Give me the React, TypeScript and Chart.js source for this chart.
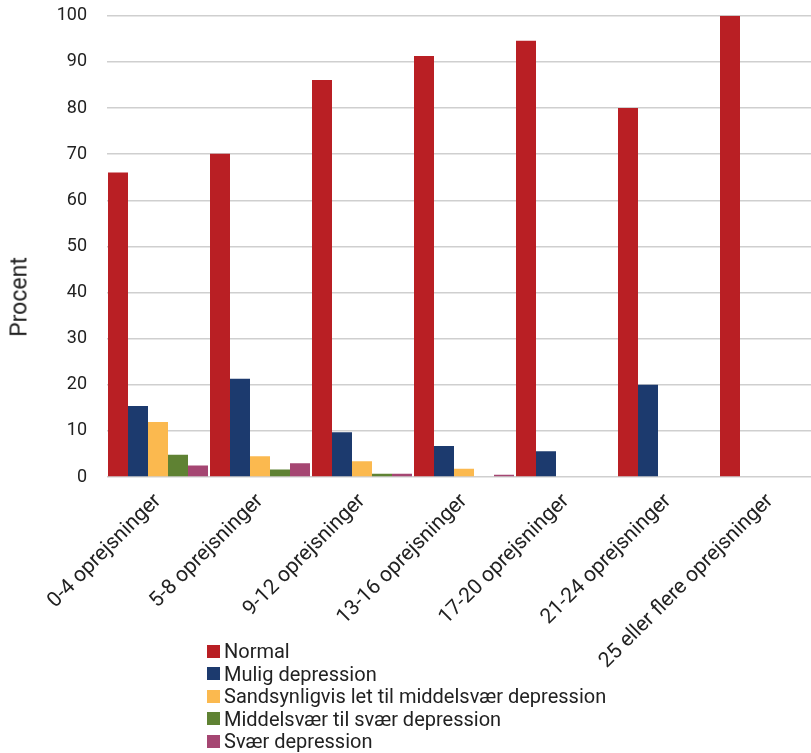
import React, { useEffect, useRef } from "react";
import { Chart, registerables } from "chart.js";

Chart.register(...registerables);

const categories = [
  "0-4 oprejsninger",
  "5-8 oprejsninger",
  "9-12 oprejsninger",
  "13-16 oprejsninger",
  "17-20 oprejsninger",
  "21-24 oprejsninger",
  "25 eller flere oprejsninger",
];

const seriesNames = [
  "Normal",
  "Mulig depression",
  "Sandsynligvis let til middelsvær depression",
  "Middelsvær til svær depression",
  "Svær depression",
];

const normal = [66, 70.1, 86.1, 91.3, 94.6, 80, 100];
const mulig = [15.4, 21.3, 9.7, 6.7, 5.6, 20, 0];
const sandsynligvis = [11.9, 4.5, 3.4, 1.8, 0, 0, 0];
const middelsvaer = [4.8, 1.6, 0.7, 0, 0, 0, 0];
const svaer = [2.5, 3.0, 0.7, 0.5, 0, 0, 0];

const colors = ["#B91F24", "#1C3A6E", "#FBB94F", "#5F8233", "#A54672"];

const yTicks = [0, 10, 20, 30, 40, 50, 60, 70, 80, 90, 100];

const FONT = "Roboto, 'DejaVu Sans', sans-serif";

const CANVAS_TOP = -15;
const CANVAS_H = 768;

export default function App() {
  const ref = useRef<HTMLCanvasElement | null>(null);

  useEffect(() => {
    if (!ref.current) return;
    const values = [normal, mulig, sandsynligvis, middelsvaer, svaer];
    const chart = new Chart(ref.current, {
      type: "bar",
      data: {
        labels: categories,
        datasets: seriesNames.map((name, i) => ({
          label: name,
          data: values[i],
          backgroundColor: colors[i],
          borderWidth: 0,
          barPercentage: 1,
          categoryPercentage: 100 / 102,
        })),
      },
      options: {
        animation: false,
        responsive: false,
        maintainAspectRatio: false,
        layout: { padding: { top: 2, right: 0, bottom: 0, left: 0 } },
        plugins: {
          legend: { display: false },
          tooltip: { enabled: false },
        },
        scales: {
          x: {
            grid: { display: false },
            border: { display: false },
            ticks: {
              minRotation: 45,
              maxRotation: 45,
              color: "#222",
              padding: 4,
              font: { family: FONT, size: 21 },
            },
            afterFit: (scale: any) => {
              scale.height = CANVAS_H - (477 - CANVAS_TOP);
            },
          },
          y: {
            min: 0,
            max: 100,
            afterBuildTicks: (scale: any) => {
              scale.ticks = yTicks.map((v) => ({ value: v }));
            },
            grid: { color: "#cfcfcf", lineWidth: 1.5, drawTicks: false },
            border: { display: false },
            ticks: {
              color: "#222",
              padding: 20,
              font: { family: FONT, size: 18 },
            },
            afterFit: (scale: any) => {
              scale.width = 107;
            },
          },
        },
      },
    });
    return () => chart.destroy();
  }, []);

  return (
    <div
      style={{
        position: "fixed",
        left: 0,
        top: 0,
        width: 811,
        height: 753,
        overflow: "hidden",
        background: "#fff",
        fontFamily: FONT,
      }}
    >
      <canvas
        ref={ref}
        width={821}
        height={CANVAS_H}
        style={{ position: "absolute", left: 0, top: CANVAS_TOP, width: 821, height: CANVAS_H }}
      />
      <div
        style={{
          position: "absolute",
          left: 19,
          top: 297,
          transform: "translate(-50%, -50%) rotate(-90deg)",
          fontSize: 23,
          color: "#222",
          whiteSpace: "nowrap",
        }}
      >
        Procent
      </div>
      <div
        style={{
          position: "absolute",
          left: 207,
          top: 640,
          fontSize: 20,
          color: "#222",
          lineHeight: "22.5px",
        }}
      >
        {seriesNames.map((name, i) => (
          <div key={name} style={{ display: "flex", alignItems: "center", whiteSpace: "nowrap" }}>
            <span
              style={{
                display: "inline-block",
                width: 13,
                height: 13,
                background: colors[i],
                marginRight: 4,
              }}
            />
            <span>{name}</span>
          </div>
        ))}
      </div>
    </div>
  );
}
